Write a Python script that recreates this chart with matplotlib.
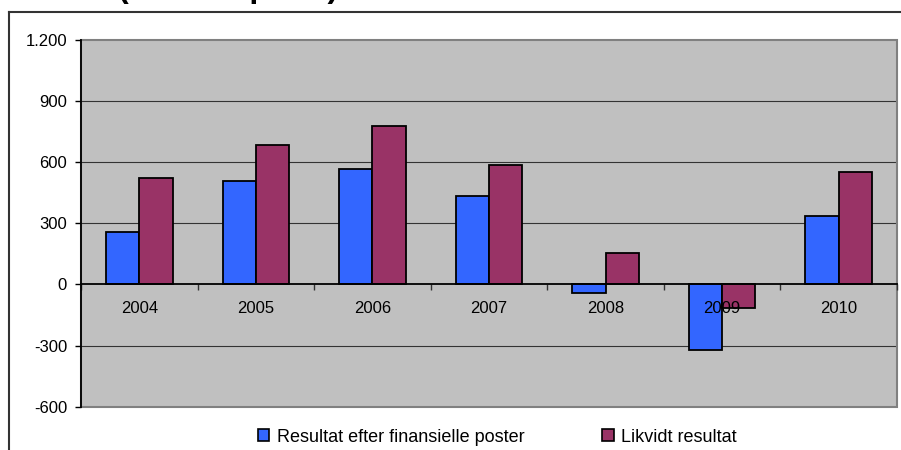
import numpy as np
import matplotlib.pyplot as plt
from matplotlib.patches import Rectangle, Patch
from matplotlib.lines import Line2D
from matplotlib.ticker import FuncFormatter, FixedLocator

plt.rcParams['font.family'] = ['Liberation Sans', 'DejaVu Sans']

# data
aar = ['2004', '2005', '2006', '2007', '2008', '2009', '2010']
resultat_fin = [259, 510, 566, 433, -43, -323, 335]
likvidt = [524, 685, 778, 588, 155, -114, 552]
serie_navne = ['Resultat efter finansielle poster', 'Likvidt resultat']
farver = ['#3366FF', '#993366']
y_ticks = [-600, -300, 0, 300, 600, 900, 1200]

fig = plt.figure(figsize=(9.01, 4.5), dpi=100)
ax = fig.add_axes([81/901, 1 - 406.7/450, 816/901, 366.7/450])
ax.set_facecolor('#C0C0C0')
ax.set_axisbelow(False)  # aarstal skal staa oven paa soejlerne

x = np.arange(len(aar))
w = 0.286
ax.bar(x - w/2, resultat_fin, w, color=farver[0], edgecolor='black', linewidth=1.3, zorder=2)
ax.bar(x + w/2, likvidt, w, color=farver[1], edgecolor='black', linewidth=1.3, zorder=2)

ax.set_xlim(-0.5, len(aar) - 0.5)
ax.set_ylim(y_ticks[0], y_ticks[-1])

# gitterlinjer (tegnet under soejlerne)
for v in y_ticks[1:-1]:
    if v != 0:
        ax.axhline(v, color='#333333', linewidth=0.8, zorder=1)

ax.yaxis.set_major_locator(FixedLocator(y_ticks))
ax.yaxis.set_major_formatter(FuncFormatter(lambda v, p: f'{int(v):,}'.replace(',', '.')))
ax.tick_params(axis='y', direction='out', length=4, width=1, pad=6, labelsize=12, color='black')

# x-akse ved nul
ax.spines['bottom'].set_position(('data', 0))
ax.spines['bottom'].set_zorder(4)
ax.spines['bottom'].set_linewidth(1.3)
ax.set_xticks(x)
ax.set_xticklabels(aar)
ax.set_xticks(np.arange(len(aar) + 1) - 0.5, minor=True)
ax.tick_params(axis='x', which='major', length=0, pad=12, labelsize=12)
ax.tick_params(axis='x', which='minor', direction='out', length=4, width=1, color='#333333')
ax.spines['left'].set_linewidth(1.3)
ax.spines['left'].set_zorder(4)
for s in ['top', 'right']:
    ax.spines[s].set_visible(False)

# graa ramme om plotomraadet
ax.add_patch(Rectangle((0, 0), 1, 1, transform=ax.transAxes, fill=False,
                       edgecolor='#808080', linewidth=1.5, zorder=1.5, clip_on=False))

# legend
handles = [Patch(facecolor=c, edgecolor='black', linewidth=1.2) for c in farver]
fig.legend(handles, serie_navne, loc='center', bbox_to_anchor=(497/901, 1 - 437/450),
           ncol=2, frameon=False, fontsize=13, handlelength=0.65, handleheight=0.65,
           handletextpad=0.4, columnspacing=4.3, borderpad=0)

# ydre ramme
fig.add_artist(Line2D([9/901, 9/901], [0, 1 - 12/450], color='#333333', linewidth=1.5))
fig.add_artist(Line2D([9/901, 1], [1 - 12/450, 1 - 12/450], color='#333333', linewidth=1.5))

# titel (afskaaret i toppen)
fig.text(118/901, 1 + 3/450, '(mio. kr. pr. år)', fontsize=23, fontweight='bold',
         ha='left', va='baseline')

fig.savefig('out.png', dpi=100)
